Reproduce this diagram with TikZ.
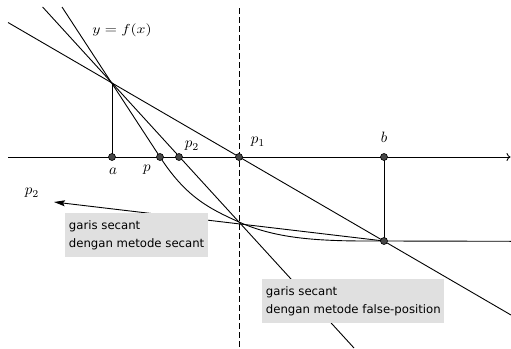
\documentclass[tikz,border=0pt]{standalone}
\usepackage{fontspec}
\usepackage{graphicx}
\newfontfamily\boxfont{DejaVu Sans}
\usetikzlibrary{arrows.meta}
\newcommand{\biglbl}[1]{\scalebox{1.5}{$#1$}}
\begin{document}
\begin{tikzpicture}[x=1pt,y=-1pt,line width=0.9pt,
  dot/.style={circle,draw=black,fill=black!72,inner sep=0pt,minimum size=7pt,line width=0.6pt},
  lbl/.style={inner sep=0pt},
  note/.style={fill=black!12,align=left,anchor=north west,
    font=\boxfont\fontsize{11.7}{18}\selectfont,inner xsep=3.5pt,inner ysep=7pt},
  dashline/.style={dash pattern=on 6pt off 3pt}]
\useasboundingbox (0,0) rectangle (511,348);
% key points
\coordinate (A) at (112,83);
\coordinate (P1c) at (239,222);
\coordinate (B) at (384,241);
\coordinate (axL) at (8,157);
\coordinate (axR) at (510.5,157);
\coordinate (dT) at (239,8);
\coordinate (dB) at (239,348);
\coordinate (l1s) at (8,22.5);
\coordinate (l1e) at (511,315);
\coordinate (l2s) at (42.6,7);
\coordinate (l2e) at (354,348);
\coordinate (c0) at (62,7);
\coordinate (cE) at (511,241.3);
\coordinate (tip) at (54,202);
% axis
\draw[-{To[length=4pt,width=8pt]}] (axL) -- (axR);
% dashed vertical
\draw[dashline,line width=0.8pt] (dT) -- (dB);
% secant lines
\draw (l1s) -- (l1e);
\draw (l2s) -- (l2e);
% curve y=f(x)
\draw (c0) -- (160,157) .. controls (186,197) and (209,208.5) .. (P1c)
      .. controls (279,240) and (324,241.3) .. (B) -- (cE);
% secant method line with arrow
\draw[-{Stealth[length=11pt,width=6pt,inset=2pt]}] (B) -- (tip);
% verticals
\draw (A) -- (112,157);
\draw (B) -- (384,157);
% boxes
\node[note] (n1) at (65,213) {garis secant\\dengan metode secant};
\node[note] (n2) at (262,279) {garis secant\\dengan metode false-position};
% dots
\node[dot] (a) at (112,157) {};
\node[dot] (p) at (160,157) {};
\node[dot] (p2) at (179,157) {};
\node[dot] (p1) at (239,157) {};
\node[dot] (b) at (384,157) {};
\node[dot] (Bd) at (B) {};
% labels
\node[lbl] (la) at (113,171) {\biglbl{a}};
\node[lbl] (lp) at (147,170) {\biglbl{p}};
\node[lbl] (lp2) at (192,146) {\biglbl{p_2}};
\node[lbl] (lp1) at (258,142) {\biglbl{p_1}};
\node[lbl] (lb) at (384,137) {\biglbl{b}};
\node[lbl] (lq2) at (32,193) {\biglbl{p_2}};
\node[lbl] (fx) at (122,30) {\scalebox{1.56}[1.3]{$y=f(x)$}};
\end{tikzpicture}
\end{document}
